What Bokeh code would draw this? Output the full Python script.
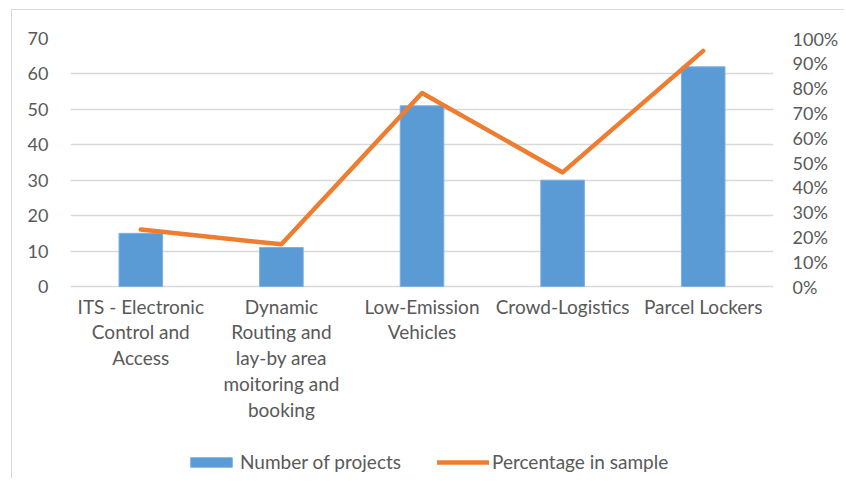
from bokeh.plotting import figure
from bokeh.models import (Range1d, FactorRange, LinearAxis, NumeralTickFormatter,
                          FixedTicker, Legend, LegendItem)
from bokeh.core.properties import value
from bokeh.embed import file_html
from bokeh.resources import INLINE

categories = ["ITS - Electronic\nControl and\nAccess",
              "Dynamic\nRouting and\nlay-by area\nmoitoring and\nbooking",
              "Low-Emission\nVehicles",
              "Crowd-Logistics",
              "Parcel Lockers"]
projects = [15, 11, 51, 30, 62]
percentage = [0.23, 0.17, 0.78, 0.46, 0.95]
left_ticks = [0, 10, 20, 30, 40, 50, 60, 70]
right_ticks = [0.0, 0.1, 0.2, 0.3, 0.4, 0.5, 0.6, 0.7, 0.8, 0.9, 1.0]

FONT = "Lato"
TXT = "#595959"
BLUE = "#5B9BD5"
ORANGE = "#ED7D31"
GRID = "#D9D9D9"

# plot area extended below zero so the category labels and legend sit inside it
EXTRA_PX = 192
PX_PER_UNIT = 248 / 70
p = figure(x_range=FactorRange(factors=categories, range_padding=0),
           y_range=Range1d(-EXTRA_PX / PX_PER_UNIT, 70),
           frame_width=703, frame_height=248 + EXTRA_PX,
           x_axis_location=None,
           min_border_left=58, min_border_right=71, min_border_top=28, min_border_bottom=0,
           output_backend="svg", toolbar_location=None)
p.margin = (9, 0, 0, 11)
p.styles = {"border-left": "1px solid #D9D9D9", "border-top": "1px solid #D9D9D9"}
p.extra_y_ranges = {"pct": Range1d(-EXTRA_PX / 248, 1)}

bars = p.vbar(x=categories, top=projects, width=0.31, fill_color=BLUE,
              line_color="#7DAFDF", line_width=1)
line = p.line(x=categories, y=percentage, y_range_name="pct", line_color=ORANGE,
              line_width=4.5, line_cap="round", line_join="round")

# category labels under the zero line
p.text(x=categories, y=[-8 / PX_PER_UNIT] * len(categories), text=categories,
       text_align="center", text_baseline="top", text_line_height=1.13,
       text_font=value(FONT), text_font_size=value("19px"), text_color=TXT)

p.outline_line_color = None
p.xgrid.grid_line_color = None
p.ygrid.grid_line_color = GRID
p.ygrid.grid_line_width = 1.3
p.ygrid.ticker = FixedTicker(ticks=left_ticks)

ya = p.yaxis[0]
ya.ticker = FixedTicker(ticks=left_ticks)
right = LinearAxis(y_range_name="pct", ticker=FixedTicker(ticks=right_ticks),
                   formatter=NumeralTickFormatter(format="0%"))
p.add_layout(right, "right")

for ax in [ya, right]:
    ax.axis_line_color = None
    ax.major_tick_line_color = None
    ax.minor_tick_line_color = None
    ax.major_label_text_font = FONT
    ax.major_label_text_font_size = "18px"
    ax.major_label_text_color = TXT
ya.major_label_standoff = 16
right.major_label_standoff = 13

legend = Legend(items=[LegendItem(label="Number of projects", renderers=[bars]),
                       LegendItem(label="Percentage in sample", renderers=[line])],
                orientation="horizontal", location=(115, 5),
                glyph_width=52, glyph_height=12, label_height=20, label_standoff=3,
                spacing=36, padding=0, margin=0,
                label_text_font=FONT, label_text_font_size="19px", label_text_color=TXT,
                background_fill_alpha=0, border_line_color=None)
p.add_layout(legend, "center")

open("out.html", "w").write(file_html(p, INLINE))
